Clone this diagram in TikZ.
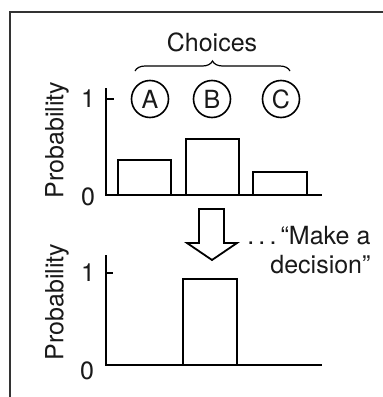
\documentclass[tikz,border=0pt]{standalone}
\usepackage{fontspec}
\setmainfont{TeX Gyre Heros}
\usetikzlibrary{decorations.pathreplacing}
\tikzset{
  axis/.style={line width=1.6pt},
  bar/.style={line width=2.6pt},
  choice/.style={circle, draw, line width=1.6pt, minimum size=37pt, inner sep=0pt},
}
\begin{document}
\begin{tikzpicture}[x=1pt, y=-1pt, font=\fontsize{25}{29}\selectfont, text=black!90]
\useasboundingbox (0,0) rectangle (383,397);
% Frame
\draw[line width=2.2pt, black!80] (10,400) -- (10,12) -- (390,12);

% Top chart: axes
\draw[axis] (106,88) -- (106,195) -- (322,195);
\draw[axis] (106,99) -- (114,99);
\node (topone) at (88,99) {1};
\node (topzero) at (88,197) {0};
\node[rotate=90] (topprob) at (57,140) {Probability};

% Choices
\node[choice] (a) at (150,99) {A};
\node[choice] (b) at (212,99) {B};
\node[choice] (c) at (281,99) {C};
\coordinate (braceleft) at (135,71);
\coordinate (braceright) at (290,71);
\draw[line width=1.2pt, decorate, decoration={brace, amplitude=10pt}] (braceleft) -- (braceright);
\node (choices) at (212,42) {Choices};

% Top chart: bars
\draw[bar] (118,195) rectangle (171,160);
\draw[bar] (186,195) rectangle (239,139);
\draw[bar] (253,195) rectangle (307,172);

% Block arrow
\draw[line width=1.8pt, line join=miter] (199,209) -- (224,209) -- (224,243) -- (237,243)
  -- (212,260) -- (187,243) -- (199,243) -- cycle;
\node[align=right, anchor=east] (decide) at (374,250) {.\,.\,.\,“Make a\\decision”};

% Bottom chart: axes
\draw[axis] (106,255) -- (106,365) -- (322,365);
\draw[axis] (106,273) -- (113,273);
\node (botone) at (88,273) {1};
\node (botzero) at (87,371) {0};
\node[rotate=90] (botprob) at (57,302) {Probability};

% Bottom chart: bar
\draw[bar] (183,365) rectangle (237,279);
\end{tikzpicture}
\end{document}
